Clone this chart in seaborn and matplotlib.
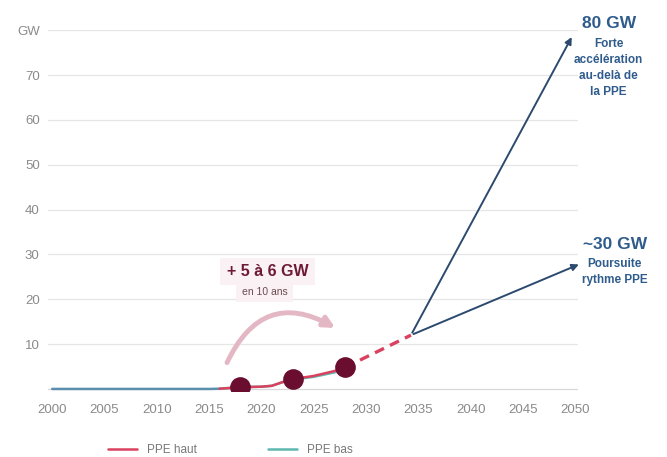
import numpy as np
import pandas as pd
import seaborn as sns
import matplotlib.pyplot as plt
from matplotlib.lines import Line2D

# Historical and PPE trajectories (GW)
hist_years = [2000, 2005, 2010, 2015, 2016]
hist_gw = [0.0, 0.0, 0.0, 0.0, 0.05]

haut_years = [2016, 2018, 2020, 2021, 2022, 2023, 2025, 2027, 2028]
haut_gw = [0.05, 0.4, 0.5, 0.7, 1.5, 2.2, 2.9, 4.0, 4.8]

bas_years = [2016, 2018, 2020, 2021, 2022, 2023, 2025, 2027, 2028]
bas_gw = [0.05, 0.4, 0.5, 0.7, 1.5, 2.1, 2.7, 3.7, 4.3]

# Milestones and extrapolation
milestone_years = [2018, 2023, 2028]
milestone_gw = [0.5, 2.2, 4.8]

dash_years = [2028, 2034.3]
dash_gw = [4.8, 12.0]

branch_start = (2034.3, 12.0)
branch_high = (2049.8, 79.0)
branch_low = (2050.6, 28.0)

yticks = [0, 10, 20, 30, 40, 50, 60, 70, 80]
ytick_labels = ["", "10", "20", "30", "40", "50", "60", "70", "GW"]
xticks = list(range(2000, 2051, 5))

red = "#d9415f"
teal = "#5fb8b0"
hist_col = "#5a8fae"
maroon = "#6a0d2e"
navy = "#2c4a6e"
label_blue = "#2f5c8c"
box_col = "#f9f1f3"

sns.set_theme(style="white")
plt.rcParams['font.family'] = ['Liberation Sans', 'DejaVu Sans']

fig = plt.figure(figsize=(6.67, 4.57), dpi=100)
ax = fig.add_axes([0.072, 0.144, 0.795, 0.79])

for y in yticks[1:]:
    ax.axhline(y, color="#e6e6e6", lw=0.9, zorder=0)
ax.axhline(0, color="#d8d8d8", lw=0.9, zorder=0)

hist = pd.DataFrame({"year": hist_years, "gw": hist_gw})
haut = pd.DataFrame({"year": haut_years, "gw": haut_gw})
bas = pd.DataFrame({"year": bas_years, "gw": bas_gw})

sns.lineplot(data=hist, x="year", y="gw", color=hist_col, lw=1.8, ax=ax)
sns.lineplot(data=bas, x="year", y="gw", color=teal, lw=1.8, ax=ax)
sns.lineplot(data=haut, x="year", y="gw", color=red, lw=1.8, ax=ax)
ax.plot(dash_years, dash_gw, color=red, lw=2.4, ls=(0, (3, 2)), zorder=3)

sns.scatterplot(x=milestone_years, y=milestone_gw, s=190, color=maroon,
                edgecolor=maroon, zorder=5, ax=ax)

for end in (branch_high, branch_low):
    ax.annotate("", xy=end, xytext=branch_start,
                arrowprops=dict(arrowstyle="-|>", color=navy, lw=1.4,
                                mutation_scale=10),
                annotation_clip=False)

# curved arrow "+5 a 6 GW"
ax.annotate("", xy=(2027.3, 13.3), xytext=(2016.6, 5.3),
            arrowprops=dict(arrowstyle="-|>", color="#e3b7c3", lw=3.5,
                            mutation_scale=16,
                            connectionstyle="arc3,rad=-0.55"))
ax.text(2020.6, 26.2, "+ 5 à 6 GW", ha="center", va="center", fontsize=11.5,
        fontweight="bold", color="#6e1a36",
        bbox=dict(boxstyle="square,pad=0.4", fc=box_col, ec="none"))
ax.text(2020.3, 21.6, "en 10 ans", ha="center", va="center", fontsize=7.5,
        color="#6e4a55",
        bbox=dict(boxstyle="square,pad=0.5", fc=box_col, ec="none"))

ax.text(2053.2, 81.5, "80 GW", ha="center", va="center", fontsize=12.5,
        fontweight="bold", color=label_blue, clip_on=False)
ax.text(2053.2, 78.3, "Forte\naccélération\nau-delà de\nla PPE", ha="center",
        va="top", fontsize=8.5, fontweight="bold", color=label_blue,
        linespacing=1.45, clip_on=False)
ax.text(2053.8, 32.3, "~30 GW", ha="center", va="center", fontsize=12.5,
        fontweight="bold", color=label_blue, clip_on=False)
ax.text(2053.8, 29.3, "Poursuite\nrythme PPE", ha="center", va="top",
        fontsize=8.5, fontweight="bold", color=label_blue,
        linespacing=1.45, clip_on=False)

ax.set_xlim(1999.6, 2050.3)
ax.set_ylim(-0.5, 80)
ax.set_xticks(xticks)
ax.set_yticks(yticks)
ax.set_yticklabels(ytick_labels)
ax.tick_params(axis="both", labelsize=9.5, colors="#8a8a8a", length=0)
ax.tick_params(axis="x", pad=9)
ax.tick_params(axis="y", pad=6)
ax.set_xlabel("")
ax.set_ylabel("")
sns.despine(ax=ax, left=True, bottom=True)

handles = [Line2D([0], [0], color=red, lw=1.8),
           Line2D([0], [0], color=teal, lw=1.8)]
fig.legend(handles, ["PPE haut", "PPE bas"], loc="center",
           bbox_to_anchor=(0.345, 0.016), ncol=2, frameon=False, fontsize=8.5,
           handlelength=2.5, columnspacing=6, labelcolor="#777777")

fig.savefig("out.png", dpi=100)
